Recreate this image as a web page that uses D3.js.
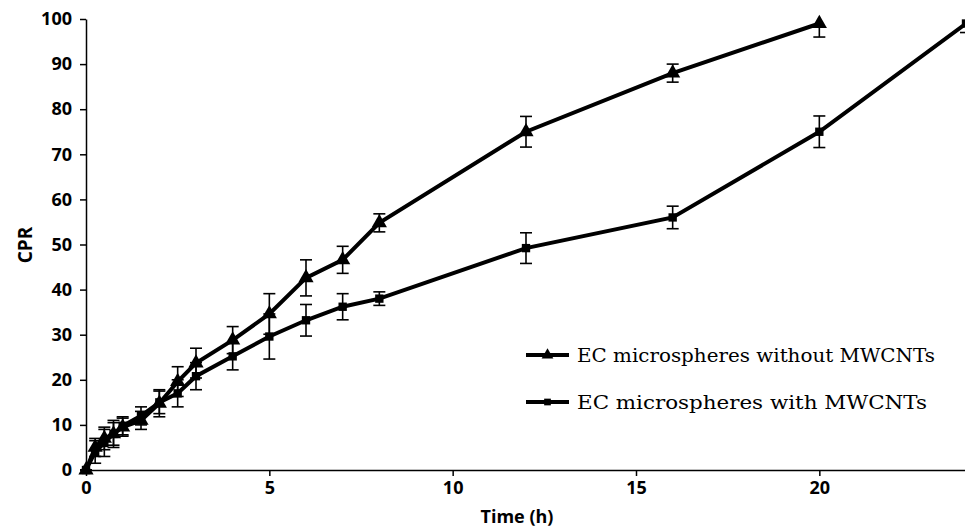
<!DOCTYPE html>
<html>
<head>
<meta charset="utf-8">
<script src="https://cdn.jsdelivr.net/npm/d3@7"></script>
<style>
  body { margin: 0; background: #fff; }
  svg { display: block; }
  .axis text { font-family: "Open Sans", sans-serif; font-weight: bold; font-size: 18px; fill: #000; }
  .axis path, .axis line { stroke: #000; stroke-width: 1.5; }
</style>
</head>
<body>
<div id="chart"></div>
<script>
// time points (h)
var timeA = [0, 0.25, 0.5, 0.75, 1, 1.5, 2, 2.5, 3, 4, 5, 6, 7, 8, 12, 16, 20];
var timeB = [0, 0.25, 0.5, 0.75, 1, 1.5, 2, 2.5, 3, 4, 5, 6, 7, 8, 12, 16, 20, 24];
// EC microspheres without MWCNTs
var cprA = [0, 5, 7, 8, 9.5, 11, 14.8, 19.6, 23.7, 28.8, 34.6, 42.6, 46.6, 54.8, 75, 88, 99];
var errA = [0, 2, 2.5, 2.5, 2, 2, 3, 3.3, 3.3, 3, 4.5, 4, 3, 2, 3.4, 2, 3];
// EC microspheres with MWCNTs
var cprB = [0, 4, 6, 8, 9.8, 12, 15, 17, 20.8, 25.2, 29.6, 33.2, 36.2, 38, 49.2, 56, 75, 99];
var errB = [0, 2.5, 3, 3, 2, 2, 2.5, 3, 3, 3, 5, 3.5, 2.9, 1.5, 3.4, 2.5, 3.5, 2];
var xTicks = [0, 5, 10, 15, 20];
var yTicks = [0, 10, 20, 30, 40, 50, 60, 70, 80, 90, 100];
var labelA = "EC microspheres without MWCNTs";
var labelB = "EC microspheres with MWCNTs";

var width = 965, height = 528;
var margin = { left: 86, right: 0, top: 19, bottom: 58 };

var svg = d3.select("#chart").append("svg")
    .attr("width", width)
    .attr("height", height);

var xScale = d3.scaleLinear().domain([0, 24]).range([margin.left, 966]);
var yScale = d3.scaleLinear().domain([0, 100]).range([height - margin.bottom, margin.top]);

// axes
svg.append("g")
    .attr("class", "x axis")
    .attr("transform", "translate(0," + yScale(0) + ")")
    .call(d3.axisBottom(xScale).tickValues(xTicks).tickSize(6).tickSizeOuter(0).tickPadding(5));
svg.append("g")
    .attr("class", "y axis")
    .attr("transform", "translate(" + margin.left + ",0)")
    .call(d3.axisLeft(yScale).tickValues(yTicks).tickSize(6).tickSizeOuter(0).tickPadding(8));

svg.append("text")
    .attr("x", 517).attr("y", 523)
    .attr("text-anchor", "middle")
    .style("font-family", "'Open Sans', sans-serif")
    .style("font-weight", "bold").style("font-size", "18px")
    .text("Time (h)");
svg.append("text")
    .attr("transform", "translate(32,245) rotate(-90)")
    .attr("text-anchor", "middle")
    .style("font-family", "'Open Sans', sans-serif")
    .style("font-weight", "bold").style("font-size", "19px")
    .text("CPR");

var line = d3.line()
    .x(function (d) { return xScale(d.t); })
    .y(function (d) { return yScale(d.v); });

function series(times, vals, errs, shape) {
    var data = times.map(function (t, i) { return { t: t, v: vals[i], e: errs[i] }; });
    var g = svg.append("g");
    // error bars
    var eb = g.selectAll(".err").data(data).enter().append("g").attr("class", "err");
    eb.append("line")
        .attr("x1", function (d) { return xScale(d.t); })
        .attr("x2", function (d) { return xScale(d.t); })
        .attr("y1", function (d) { return yScale(d.v - d.e); })
        .attr("y2", function (d) { return yScale(Math.min(d.v + d.e, 100.5)); });
    eb.append("line")
        .attr("x1", function (d) { return xScale(d.t) - 6; })
        .attr("x2", function (d) { return xScale(d.t) + 6; })
        .attr("y1", function (d) { return yScale(d.v - d.e); })
        .attr("y2", function (d) { return yScale(d.v - d.e); });
    eb.append("line")
        .attr("x1", function (d) { return xScale(d.t) - 6; })
        .attr("x2", function (d) { return xScale(d.t) + 6; })
        .attr("y1", function (d) { return yScale(d.v + d.e); })
        .attr("y2", function (d) { return yScale(d.v + d.e); })
        .style("display", function (d) { return d.v + d.e > 100.5 ? "none" : null; });
    eb.selectAll("line").attr("stroke", "#000").attr("stroke-width", 1.6);
    g.append("path")
        .datum(data)
        .attr("fill", "none")
        .attr("stroke", "#000")
        .attr("stroke-width", 4)
        .attr("d", line);
    var sym = d3.symbol().type(shape).size(shape === d3.symbolTriangle ? 100 : 70);
    g.selectAll(".pt").data(data).enter().append("path")
        .attr("transform", function (d) { return "translate(" + xScale(d.t) + "," + yScale(d.v) + ")"; })
        .attr("d", sym)
        .attr("fill", "#000");
}
series(timeB, cprB, errB, d3.symbolSquare);
series(timeA, cprA, errA, d3.symbolTriangle);

// legend
function legendItem(y, shape, label, len) {
    svg.append("line")
        .attr("x1", 526).attr("x2", 569).attr("y1", y).attr("y2", y)
        .attr("stroke", "#000").attr("stroke-width", 4);
    svg.append("path")
        .attr("transform", "translate(547.5," + y + ")")
        .attr("d", d3.symbol().type(shape).size(shape === d3.symbolTriangle ? 60 : 45))
        .attr("fill", "#000");
    svg.append("text")
        .attr("x", 577).attr("y", y + 7)
        .attr("textLength", len)
        .attr("lengthAdjust", "spacingAndGlyphs")
        .style("font-family", "'DejaVu Serif', serif")
        .style("font-size", "19px")
        .text(label);
}
legendItem(355, d3.symbolTriangle, labelA, 358);
legendItem(402, d3.symbolSquare, labelB, 350);
</script>
</body>
</html>
